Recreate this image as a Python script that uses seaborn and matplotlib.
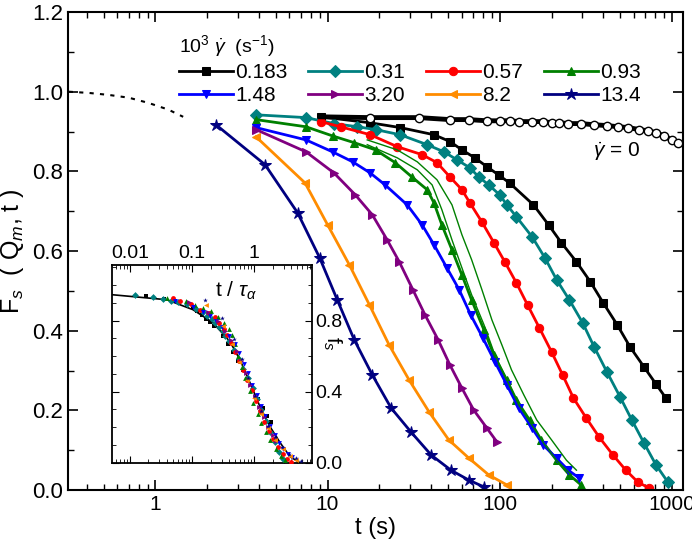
import numpy as np
import matplotlib
matplotlib.use("Agg")
import matplotlib.pyplot as plt
import matplotlib.ticker as mticker
import seaborn as sns

plt.rcParams["font.family"] = "Liberation Sans"
plt.rcParams["mathtext.fontset"] = "custom"
plt.rcParams["mathtext.rm"] = "Liberation Sans"
plt.rcParams["mathtext.it"] = "Liberation Sans:italic"

# shear rates and data
rates = ["0.183", "0.31", "0.57", "0.93", "1.48", "3.20", "8.2", "13.4"]
colors = ["black", "#008080", "red", "#008000", "blue", "purple", "darkorange", "navy"]
markers = ["s", "D", "o", "^", "v", ">", "<", "*"]

t_series = [
    [9.1, 17.7, 26.4, 41.5, 51.4, 60.3, 71.7, 84.1, 98.6, 114, 157, 192, 228, 279, 336, 399, 481, 572, 689, 809, 923],
    [3.84, 7.5, 10.9, 14.9, 19.0, 26.4, 37.9, 47.5, 56.5, 67.1, 75.5, 86.4, 100, 110, 125, 154, 183, 214, 254, 303, 354, 420, 500, 585, 689, 809, 948],
    [9.1, 11.9, 17.7, 25.4, 35.4, 43.2, 51.4, 60.3, 67.1, 78.8, 92.5, 107, 125, 145, 170, 200, 232, 268, 318, 378, 455, 540, 635, 737],
    [3.84, 7.5, 10.7, 14.3, 19.0, 24.7, 30.9, 37.9, 41.5, 46.1, 52.8, 60.3, 68.7, 81.0, 92.5, 110, 125, 149, 174, 214, 254, 297],
    [3.84, 7.5, 10.7, 14.0, 17.7, 21.6, 29.0, 35.4, 41.5, 49.3, 58.1, 67.8, 79.8, 93.8, 110, 129, 154, 179, 214, 250, 290],
    [3.84, 7.5, 10.9, 14.5, 18.2, 22.2, 26.1, 31.3, 36.8, 43.9, 51.4, 60.3, 70.6, 84.1, 96.3],
    [3.84, 7.4, 10.0, 13.4, 17.5, 22.8, 29.8, 38.9, 50.6, 66.3, 86.4, 110],
    [2.25, 4.33, 6.7, 9.0, 11.4, 14.3, 18.2, 23.4, 30.5, 40.0, 52.1, 66.3, 81.0],
]
f_series = [
    [.937, .922, .910, .892, .875, .854, .834, .812, .791, .771, .716, .666, .621, .573, .523, .470, .415, .359, .309, .266, .231],
    [.942, .935, .920, .912, .905, .892, .867, .849, .829, .809, .786, .766, .741, .716, .686, .636, .583, .528, .477, .420, .359, .296, .234, .176, .118, .063, .020],
    [.925, .912, .892, .862, .842, .822, .786, .754, .721, .673, .621, .573, .520, .465, .407, .347, .289, .231, .181, .133, .088, .050, .020, .005],
    [.930, .912, .889, .872, .854, .822, .786, .754, .721, .666, .603, .540, .477, .402, .339, .276, .226, .176, .126, .075, .038, .013],
    [.910, .879, .849, .824, .796, .766, .716, .666, .616, .558, .503, .440, .382, .322, .264, .206, .156, .113, .080, .050, .030],
    [.905, .849, .796, .741, .691, .628, .573, .503, .440, .377, .314, .256, .201, .156, .121],
    [.887, .771, .666, .565, .465, .364, .276, .196, .126, .080, .038, .013],
    [.917, .817, .696, .583, .477, .377, .289, .206, .146, .088, .050, .025, .008],
]

# two extra runs at 0.93 (thin lines)
t_green_a = [17.0, 25.4, 33.2, 43.2, 52.8, 60.3, 68.7, 78.8, 90.1, 103, 117, 138, 164, 200, 244, 279]
f_green_a = [.879, .854, .824, .779, .716, .641, .578, .503, .427, .364, .302, .239, .176, .126, .075, .050]
t_green_b = [17.0, 25.4, 33.2, 40.5, 46.1, 52.8, 60.3, 68.7, 81.0, 93.8, 110, 129, 154, 183, 214, 261]
f_green_b = [.867, .834, .804, .766, .704, .628, .558, .490, .415, .339, .276, .214, .163, .113, .075, .038]

# quiescent sample
t_rest = [17.7, 34.0, 51.4, 66.3, 84.1, 100, 114, 130, 154, 179, 200, 222, 250, 297, 354, 420, 488, 557, 645, 722, 809, 899, 1000, 1090]
f_rest = [.935, .935, .930, .930, .927, .927, .927, .925, .925, .925, .922, .922, .920, .920, .917, .915, .912, .910, .905, .902, .897, .889, .879, .872]
t_short = [0.314, 0.41, 0.535, 0.70, 0.91, 1.19, 1.45]
f_short = [1.0, .997, .992, .985, .972, .955, .937]

# inset: master curve and alpha relaxation times
x_master = [0.0053, 0.0395, 0.104, 0.218, 0.41, 0.594, 0.861, 1.25, 1.81, 2.63, 3.8, 5.5]
f_master = [0.946, 0.918, 0.862, 0.789, 0.682, 0.580, 0.451, 0.315, 0.203, 0.113, 0.034, 0.0]
tau_alpha = [500, 320, 185, 95, 72, 42, 23, 14.0]

fig = plt.figure(figsize=(6.92, 5.47), dpi=100)
ax = fig.add_axes([0.098, 0.104, 0.889, 0.874])

handles = []
for t, f, c, m, r in zip(t_series, f_series, colors, markers, rates):
    ms = 9 if m == "*" else 6
    sns.lineplot(x=t, y=f, ax=ax, color=c, marker=m, markersize=ms, markeredgecolor=c,
                 linewidth=2.0, sort=False, estimator=None)
    handles.append(ax.lines[-1])
for t, f in [(t_green_a, f_green_a), (t_green_b, f_green_b)]:
    sns.lineplot(x=t, y=f, ax=ax, color=colors[3], linewidth=1.0, sort=False, estimator=None)

sns.lineplot(x=[9.1] + t_rest, y=[.937] + f_rest, ax=ax, color="black", linewidth=3.5, sort=False, estimator=None)
ax.plot(t_rest, f_rest, "o", color="black", markerfacecolor="white", markersize=6, markeredgewidth=1)
sns.lineplot(x=t_short, y=f_short, ax=ax, color="black", linewidth=1.5, linestyle=(0, (2, 3)), sort=False, estimator=None)

ax.set_xscale("log")
ax.set_xlim(0.31, 1160)
ax.set_ylim(0, 1.2)
ax.xaxis.set_major_formatter(mticker.FuncFormatter(lambda v, p: f"{v:g}"))
ax.yaxis.set_major_locator(mticker.MultipleLocator(0.2))
ax.yaxis.set_minor_locator(mticker.MultipleLocator(0.1))
ax.yaxis.set_major_formatter(mticker.FormatStrFormatter("%.1f"))
ax.tick_params(which="both", direction="in", top=True, right=True, labelsize=16)
ax.tick_params(axis="x", labelsize=15)
ax.tick_params(which="major", length=7, width=1.2)
ax.tick_params(which="minor", length=4, width=1)
for s in ax.spines.values():
    s.set_linewidth(1.5)
ax.set_xlabel("t (s)", fontsize=17, labelpad=2)
ax.set_ylabel(r"F$_s$  ( Q$_m$, t )", fontsize=18)
ax.text(480, 0.85, r"$\dot{\gamma}$ = 0", fontsize=15, ha="center", va="center")

order = [0, 4, 1, 5, 2, 6, 3, 7]
leg = ax.legend([handles[i] for i in order], [rates[i] for i in order], ncol=4, frameon=False,
                loc="upper left", bbox_to_anchor=(0.15, 0.995), fontsize=15, handlelength=2.6,
                handletextpad=0.1, columnspacing=1.0, labelspacing=0.2,
                title=r"10$^3$ $\dot{\gamma}$  (s$^{-1}$)", title_fontsize=14)
leg._legend_box.align = "left"

# inset
ins = fig.add_axes([0.162, 0.154, 0.289, 0.362])
sns.lineplot(x=x_master, y=f_master, ax=ins, color="black", linewidth=1.2, sort=False, estimator=None)
for t, f, c, m, tau in zip(t_series, f_series, colors, markers, tau_alpha):
    sns.scatterplot(x=np.array(t) / tau, y=f, ax=ins, color=c, marker=m, s=12, edgecolor=c, linewidth=0, zorder=3)
ins.set_xscale("log")
ins.set_xlim(0.0052, 8.6)
ins.set_ylim(0, 1.115)
ins.xaxis.set_major_formatter(mticker.FuncFormatter(lambda v, p: f"{v:g}"))
ins.xaxis.set_minor_locator(mticker.LogLocator(subs=np.arange(2, 10), numticks=20))
ins.yaxis.set_major_locator(mticker.FixedLocator([0.0, 0.4, 0.8]))
ins.yaxis.set_minor_locator(mticker.MultipleLocator(0.1))
ins.yaxis.set_major_formatter(mticker.FormatStrFormatter("%.1f"))
ins.tick_params(which="both", direction="in", top=True, right=True, bottom=True, left=True,
                labeltop=True, labelbottom=False, labelright=True, labelleft=False, labelsize=14, pad=2)
ins.tick_params(which="major", length=5)
ins.tick_params(which="minor", length=3)
for s in ins.spines.values():
    s.set_linewidth(1.3)
ins.set_xlabel("")
ins.set_ylabel("")
ins.text(0.62, 0.84, r"t / $\tau_\alpha$", transform=ins.transAxes, fontsize=15, ha="center")
ins.text(1.1, 0.6, r"f$_s$", transform=ins.transAxes, fontsize=15, rotation=270, ha="center", va="center")

fig.savefig("out.png", dpi=100)
